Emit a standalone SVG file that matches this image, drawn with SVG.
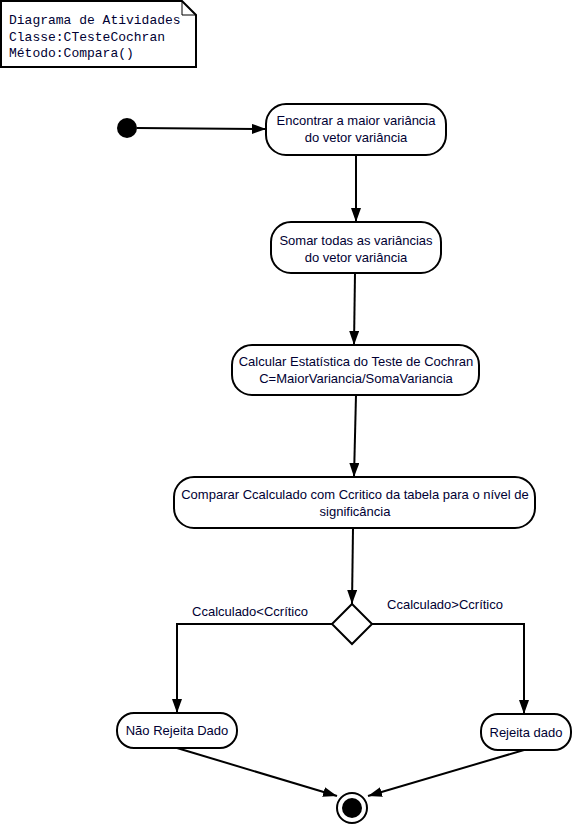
<svg xmlns="http://www.w3.org/2000/svg" width="572" height="826" viewBox="0 0 572 826">
<style>
.n{fill:#fff;stroke:#000;stroke-width:2}
.t{font-family:"Liberation Sans",Arial,sans-serif;font-size:13px;fill:#000033;text-anchor:middle}
.m{font-family:"Liberation Mono","Courier New",monospace;font-size:13px;fill:#000033}
.c{fill:none;stroke:#000;stroke-width:2}
</style>
<defs>
<marker id="a" viewBox="0 0 14 10" refX="14" refY="5" markerWidth="14" markerHeight="10" markerUnits="userSpaceOnUse" orient="auto">
<path d="M0,0 L14,5 L0,10 Z" fill="#000"/>
</marker>
</defs>
<g id="note">
<path d="M1,1 H182 L196,15 V67 H1 Z" fill="#fff" stroke="#000" stroke-width="2"/>
<path d="M182,1 V15 H196" fill="none" stroke="#000" stroke-width="1"/>
<text class="m" x="9" y="24">Diagrama de Atividades</text>
<text class="m" x="9" y="41">Classe:CTesteCochran</text>
<text class="m" x="9" y="57">Método:Compara()</text>
</g>
<g id="connectors">
<line class="c" x1="137" y1="128" x2="266" y2="129" marker-end="url(#a)"/>
<line class="c" x1="356" y1="155" x2="356" y2="222" marker-end="url(#a)"/>
<line class="c" x1="355" y1="273" x2="354" y2="345" marker-end="url(#a)"/>
<line class="c" x1="356" y1="395" x2="354" y2="477" marker-end="url(#a)"/>
<line class="c" x1="353" y1="528" x2="352" y2="604" marker-end="url(#a)"/>
<polyline class="c" points="332,624 177,624 177,713" marker-end="url(#a)"/>
<polyline class="c" points="372,624 524,624 524,714" marker-end="url(#a)"/>
<line class="c" x1="177" y1="748" x2="337" y2="796" marker-end="url(#a)"/>
<line class="c" x1="524" y1="750" x2="368" y2="796" marker-end="url(#a)"/>
<text class="t" x="250" y="616">Ccalculado&lt;Ccrítico</text>
<text class="t" x="445" y="609">Ccalculado&gt;Ccrítico</text>
</g>
<g id="start"><circle cx="127" cy="128" r="10" fill="#000"/></g>
<g id="n1">
<rect class="n" x="266" y="104" width="180" height="51" rx="20"/>
<text class="t" x="356" y="125">Encontrar a maior variância</text>
<text class="t" x="356" y="142">do vetor variância</text>
</g>
<g id="n2">
<rect class="n" x="271" y="222" width="170" height="51" rx="20"/>
<text class="t" x="356" y="245">Somar todas as variâncias</text>
<text class="t" x="356" y="262">do vetor variância</text>
</g>
<g id="n3">
<rect class="n" x="232" y="345" width="247" height="50" rx="20"/>
<text class="t" x="356" y="366">Calcular Estatística do Teste de Cochran</text>
<text class="t" x="356" y="383">C=MaiorVariancia/SomaVariancia</text>
</g>
<g id="n4">
<rect class="n" x="174" y="477" width="361" height="51" rx="20"/>
<text class="t" x="355" y="499">Comparar Ccalculado com Ccritico da tabela para o nível de</text>
<text class="t" x="355" y="516">significância</text>
</g>
<g id="decision">
<polygon class="n" points="352,604 372,624 352,644 332,624"/>
</g>
<g id="n5">
<rect class="n" x="117" y="713" width="120" height="35" rx="17"/>
<text class="t" x="177" y="735">Não Rejeita Dado</text>
</g>
<g id="n6">
<rect class="n" x="481" y="714" width="90" height="36" rx="17"/>
<text class="t" x="526" y="737">Rejeita dado</text>
</g>
<g id="end">
<circle cx="352" cy="808" r="15" fill="#fff" stroke="#000" stroke-width="2"/>
<circle cx="352" cy="808" r="10" fill="#000"/>
</g>
</svg>
